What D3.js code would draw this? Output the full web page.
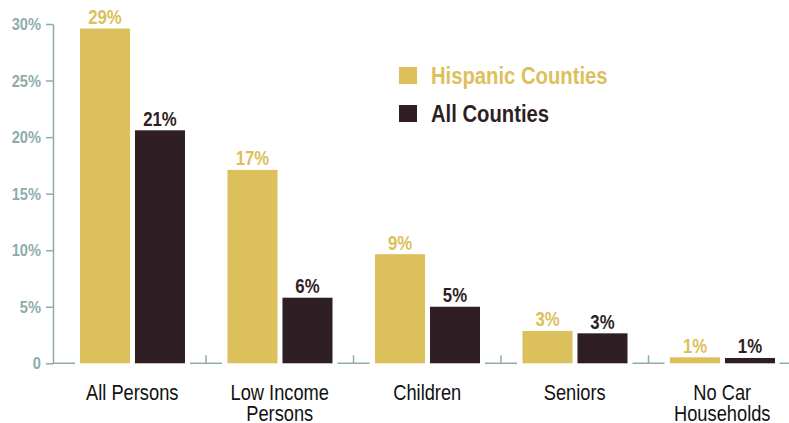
<!DOCTYPE html>
<html>
<head>
<meta charset="utf-8">
<script src="https://cdn.jsdelivr.net/npm/d3@7"></script>
<style>
  body { margin: 0; background: #fff; }
  svg { display: block; font-family: "Liberation Sans", Arial, sans-serif; }
</style>
</head>
<body>
<div id="wrapper"></div>
<script>
// data
const categories = ["All Persons", "Low Income|Persons", "Children", "Seniors", "No Car|Households"]
const seriesNames = ["Hispanic Counties", "All Counties"]
const hispanicValues = [29.6, 17.1, 9.65, 2.86, 0.53]
const allValues = [20.6, 5.8, 5.0, 2.65, 0.47]
const hispanicLabels = ["29%", "17%", "9%", "3%", "1%"]
const allLabels = ["21%", "6%", "5%", "3%", "1%"]
const yTicks = [0, 5, 10, 15, 20, 25, 30]

const gold = "#dcc05b"
const dark = "#2f1f24"
const teal = "#8eabab"

const rows = categories.map((c, i) => ({
  category: c,
  values: [
    { key: seriesNames[0], value: hispanicValues[i], label: hispanicLabels[i] },
    { key: seriesNames[1], value: allValues[i], label: allLabels[i] },
  ],
}))

const width = 789
const height = 423
const axisX = 53

// squeeze text horizontally to get a condensed face
function condense(sel, factor) {
  sel.each(function() {
    const len = this.getComputedTextLength()
    d3.select(this)
      .attr("textLength", len * factor)
      .attr("lengthAdjust", "spacingAndGlyphs")
  })
}

const svg = d3.select("#wrapper")
  .append("svg")
    .attr("width", width)
    .attr("height", height)

// scales
const x0 = d3.scaleBand()
  .domain(categories)
  .range([58.5, 796])
  .padding(0)

const x1 = d3.scaleBand()
  .domain(seriesNames)
  .range([21.5, 126.5])
  .paddingInner(0.09)

const color = d3.scaleOrdinal()
  .domain(seriesNames)
  .range([gold, dark])

const yScale = d3.scaleLinear()
  .domain([0, 30])
  .range([363.3, 24])

// y axis
const yAxisGenerator = d3.axisLeft(yScale)
  .tickValues(yTicks)
  .tickSize(7)
  .tickSizeOuter(0)
  .tickPadding(5)
  .tickFormat(d => d === 0 ? "0" : d + "%")

const yAxis = svg.append("g")
    .attr("transform", `translate(${axisX},0)`)
    .call(yAxisGenerator)
yAxis.selectAll("path, line")
    .attr("stroke", teal)
    .attr("stroke-width", 1.5)
yAxis.selectAll("text")
    .attr("fill", teal)
    .attr("font-family", "Liberation Sans, Arial, sans-serif")
    .attr("font-size", 17)
    .attr("font-weight", "bold")
    .call(condense, 0.86)

// baseline pieces between the groups
const y0 = yScale(0)
const base = svg.append("g")
    .attr("stroke", teal)
    .attr("stroke-width", 1.5)

base.append("line")
    .attr("x1", axisX).attr("x2", x0(categories[0]) + 16.5)
    .attr("y1", y0).attr("y2", y0)

categories.slice(1).forEach(c => {
  const bx = x0(c)
  base.append("line")
      .attr("x1", bx - 16).attr("x2", bx + 16)
      .attr("y1", y0).attr("y2", y0)
  base.append("line")
      .attr("x1", bx).attr("x2", bx)
      .attr("y1", y0).attr("y2", y0 - 8)
})

const lastEnd = x0(categories[categories.length - 1]) + x0.bandwidth()
base.append("line")
    .attr("x1", lastEnd - 16.5).attr("x2", width)
    .attr("y1", y0).attr("y2", y0)

// bars
const groups = svg.selectAll(".group")
  .data(rows)
  .enter().append("g")
    .attr("class", "group")
    .attr("transform", d => `translate(${x0(d.category)},0)`)

groups.selectAll("rect")
  .data(d => d.values)
  .enter().append("rect")
    .attr("x", d => x1(d.key))
    .attr("y", d => yScale(d.value))
    .attr("width", x1.bandwidth())
    .attr("height", d => y0 - yScale(d.value))
    .attr("fill", d => color(d.key))

groups.selectAll(".value")
  .data(d => d.values)
  .enter().append("text")
    .attr("class", "value")
    .attr("x", d => x1(d.key) + x1.bandwidth() / 2)
    .attr("y", d => yScale(d.value) - 4.5)
    .attr("text-anchor", "middle")
    .attr("fill", d => color(d.key))
    .attr("font-size", 19.5)
    .attr("font-weight", "bold")
    .text(d => d.label)
    .call(condense, 0.86)

// category labels
groups.append("text")
    .attr("y", 400)
    .attr("text-anchor", "middle")
    .attr("fill", "#111")
    .attr("font-size", 21.5)
    .selectAll("tspan")
    .data(d => d.category.split("|"))
    .enter().append("tspan")
      .attr("x", x0.bandwidth() / 2)
      .attr("dy", (d, i) => i === 0 ? 0 : 21)
      .text(d => d)
      .call(condense, 0.85)

// legend
const legend = svg.append("g")
    .attr("transform", "translate(399,67)")

const legendItems = legend.selectAll("g")
  .data(seriesNames)
  .enter().append("g")
    .attr("transform", (d, i) => `translate(0,${i * 38})`)

legendItems.append("rect")
    .attr("width", 18)
    .attr("height", 17)
    .attr("fill", d => color(d))

legendItems.append("text")
    .attr("x", 32)
    .attr("y", 16.5)
    .attr("fill", d => color(d))
    .attr("font-size", 23)
    .attr("font-weight", "bold")
    .text(d => d)
    .call(condense, 0.88)
</script>
</body>
</html>
